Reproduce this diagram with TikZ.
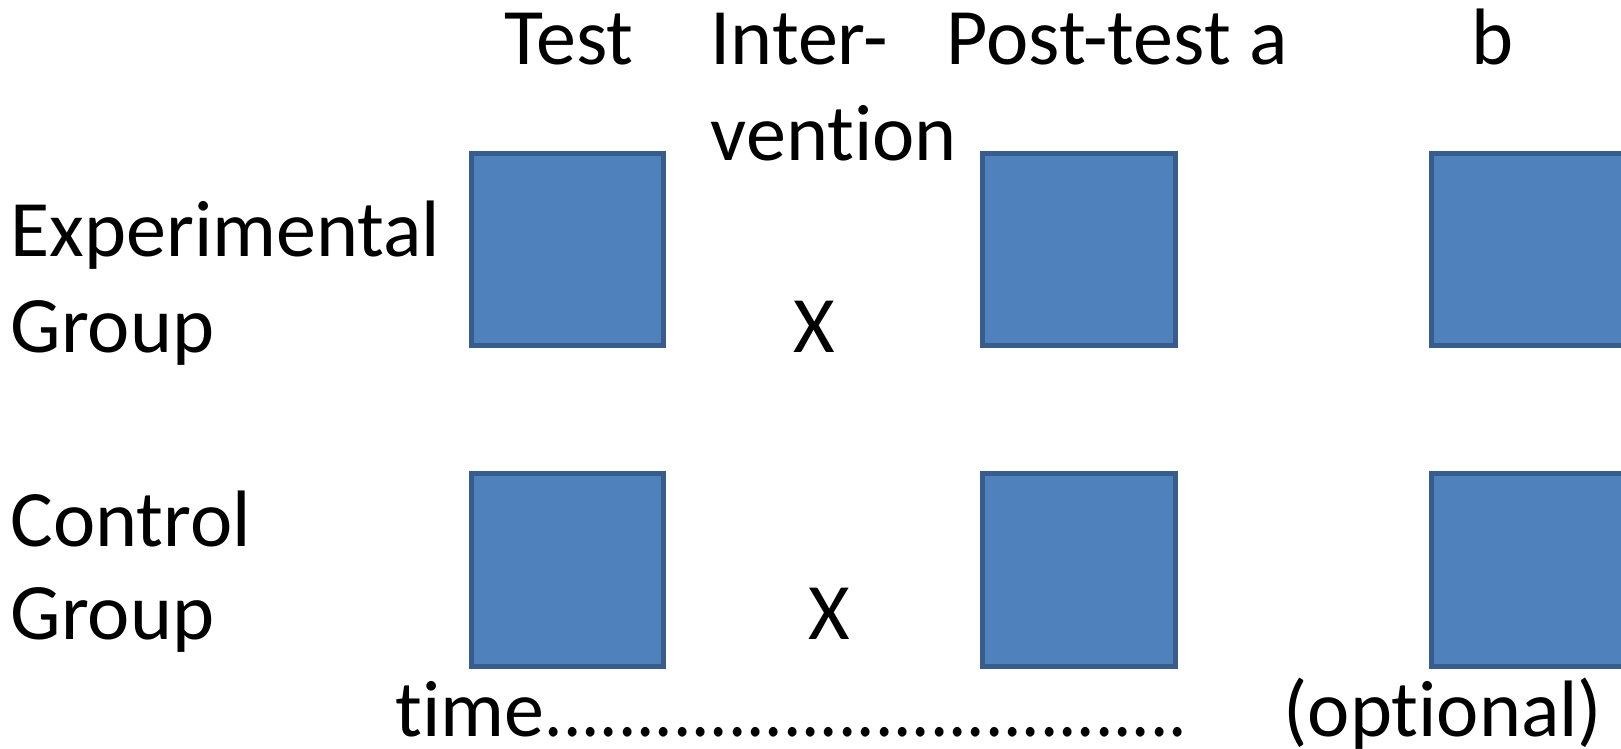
\documentclass[tikz,border=0pt]{standalone}
\usepackage{fontspec}
\setmainfont{Carlito}[Ligatures=NoCommon]
\definecolor{cajaazul}{HTML}{4F81BD}
\definecolor{bordeazul}{HTML}{385D8A}
\begin{document}
\begin{tikzpicture}[x=0.01cm, y=-0.01cm,
    caja/.style={draw=bordeazul, fill=cajaazul, line width=0.05cm, minimum size=1.92cm, inner sep=0pt},
    lbl/.style={anchor=base west, inner sep=0pt, font=\fontsize{22.76}{27.3}\selectfont}]
    % Fija el marco
    \path[use as bounding box] (0,0) rectangle (1621,748);
    \clip (0,0) rectangle (1621,748);

    % Dibuja las cajas de los grupos
    \node[caja] (expA) at (567.5,249.5) {};
    \node[caja] (expB) at (1079,249.5) {};
    \node[caja] (expC) at (1527.5,249.5) {};
    \node[caja] (conA) at (567.5,570) {};
    \node[caja] (conB) at (1079,570) {};
    \node[caja] (conC) at (1527.5,570) {};

    % Encabezados de las columnas
    \node[lbl] (test) at (504,64) {Test};
    \node[lbl] (inter) at (710,64) {Inter-};
    \node[lbl] (vention) at (710,160) {vention};
    \node[lbl] (posta) at (946,64) {Post-test a};
    \node[lbl] (postb) at (1471,64) {b};

    % Nombres de los grupos
    \node[lbl] (expuno) at (10,256) {Experimental};
    \node[lbl] (expdos) at (10,352) {Group};
    \node[lbl] (conuno) at (10,546) {Control};
    \node[lbl] (condos) at (10,639) {Group};

    % Marcas de la intervencion
    \node[lbl] (xexp) at (793,352) {X};
    \node[lbl] (xcon) at (808,639) {X};

    % Linea del tiempo
    \node[lbl] (time) at (395,736) {time\scalebox{0.91}[1]{...................................}};
    \node[lbl] (optional) at (1283,736) {(optional)};
\end{tikzpicture}
\end{document}
